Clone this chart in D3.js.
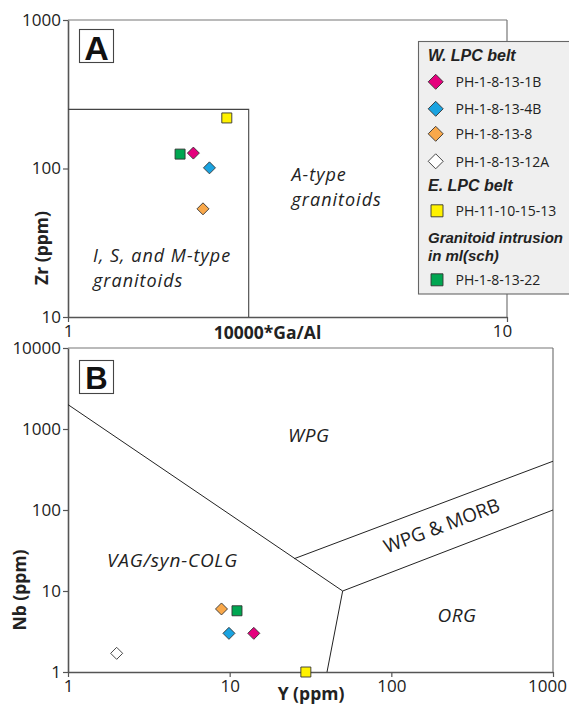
<!DOCTYPE html>
<html><head><meta charset="utf-8">
<script src="https://cdn.jsdelivr.net/npm/d3@7"></script>
<style>
body{margin:0;background:#fff;}
svg{display:block;}
.tick text{font-family:"Open Sans",sans-serif;font-size:17px;fill:#222;}
</style></head>
<body><svg id="c" width="569" height="706"></svg>
<script>
// ---------- data ----------
const samples = ["PH-1-8-13-1B","PH-1-8-13-4B","PH-1-8-13-8","PH-1-8-13-12A","PH-11-10-15-13","PH-1-8-13-22"];
const shapes  = ["diamond","diamond","diamond","diamond","square","square"];
const colors  = ["#e5007d","#1aa3e0","#f9a84a","#ffffff","#fff200","#00a651"];
// Panel A: 10000*Ga/Al vs Zr (ppm)
const gaAl = [1.93, 2.10, 2.03, null, 2.30, 1.80];
const zr   = [127, 101, 53.5, null, 219, 125];
// Panel B: Y vs Nb (ppm)
const yPpm  = [14.1, 9.9, 8.9, 2.0, 29.6, 11.1];
const nbPpm = [3.0, 3.0, 6.0, 1.7, 1.0, 5.7];
// Field boundaries
const isBoxGaAl = 2.58, isBoxZr = 250;
const lineVagWpg = [[1,2000],[50,10]];
const lineOrg    = [[50,10],[40,1]];
const lineMorbLo = [[50,10],[1000,100]];
const lineMorbHi = [[25,25],[1000,400]];
// Tick labels
const ticksAx = [1,10], ticksAy = [10,100,1000];
const ticksBx = [1,10,100,1000], ticksBy = [1,10,100,1000,10000];
// Legend
const legendRows = [
  {type:"head", text:"W. LPC belt"},
  {type:"item", idx:0},{type:"item", idx:1},{type:"item", idx:2},{type:"item", idx:3},
  {type:"head", text:"E. LPC belt"},
  {type:"item", idx:4},
  {type:"head", text:"Granitoid intrusion"},
  {type:"head2", text:"in ml(sch)"},
  {type:"item", idx:5}
];

const svg = d3.select("#c");
const SANS = '"Open Sans", sans-serif';
const ARIAL = '"Liberation Sans", Arial, sans-serif';

function marker(g, shape, size){
  if(shape==="diamond"){
    const r=size/2;
    return g.append("path").attr("d",`M0,${-r}L${r},0L0,${r}L${-r},0Z`);
  } else {
    const h=size/2;
    return g.append("path").attr("d",`M${-h},${-h}H${h}V${h}H${-h}Z`);
  }
}

function frame(x, y, xt, yt, labelAdjust){
  const [x0,x1]=x.range(), [y0,y1]=y.range();
  svg.append("line").attr("x1",x0).attr("x2",x1).attr("y1",y1).attr("y2",y1).attr("stroke","#777").attr("stroke-width",1.2);
  svg.append("line").attr("x1",x1).attr("x2",x1).attr("y1",y1).attr("y2",y0).attr("stroke","#777").attr("stroke-width",1.2);
  const ax = svg.append("g").attr("transform",`translate(0,${y0})`)
    .call(d3.axisBottom(x).tickValues(xt).tickFormat(d3.format("d")).tickSize(5).tickSizeOuter(0).tickPadding(3));
  const ay = svg.append("g").attr("transform",`translate(${x0},0)`)
    .call(d3.axisLeft(y).tickValues(yt).tickFormat(d3.format("d")).tickSize(5).tickSizeOuter(0).tickPadding(2));
  [ax,ay].forEach(a=>{
    a.select(".domain").attr("stroke","#555").attr("stroke-width",1.6);
    a.selectAll(".tick line").attr("stroke","#555").attr("stroke-width",1.2);
  });
  if(labelAdjust) labelAdjust(ax);
}

// ---------- Panel A ----------
const xA = d3.scaleLog().domain([1,10]).range([68,507]);
const yA = d3.scaleLog().domain([10,1000]).range([317,20]);
frame(xA,yA,ticksAx,ticksAy, ax=>{ax.selectAll(".tick text").filter(d=>d===10).attr("dx",-5);});
// I,S,M box
svg.append("path")
  .attr("d",`M${xA(1)},${yA(isBoxZr)}H${xA(isBoxGaAl)}V${yA(10)}`)
  .attr("fill","none").attr("stroke","#444").attr("stroke-width",1.1);

// panel letter
function panelLetter(x,y,w,h,t,fs,by){
  svg.append("rect").attr("x",x).attr("y",y).attr("width",w).attr("height",h).attr("fill","#fff").attr("stroke","#444").attr("stroke-width",1.1);
  svg.append("text").attr("x",x+w/2).attr("y",by).attr("text-anchor","middle")
    .attr("font-family",ARIAL).attr("font-weight","bold").attr("font-size",fs).attr("fill","#111").text(t);
}
panelLetter(79.5,29.5,34,33,"A",34,59.5);

function itext(x,y,t,fs,italic,ls){
  return svg.append("text").attr("x",x).attr("y",y).attr("font-family",SANS)
    .attr("font-style",italic?"italic":"normal").attr("font-size",fs)
    .attr("letter-spacing",ls||0).attr("fill","#222").text(t);
}
itext(291.5,181,"A-type",18,true,1);
itext(291.5,206,"granitoids",18,true,1);
itext(93,262,"I, S, and M-type",18,true,1);
itext(93,287,"granitoids",18,true,1);

// axis titles A
svg.append("text").attr("x",267.5).attr("y",339).attr("text-anchor","middle").attr("font-family",SANS)
  .attr("font-weight","bold").attr("font-size",17.5).attr("fill","#222").text("10000*Ga/Al");
svg.append("text").attr("transform","translate(48,248) rotate(-90)").attr("text-anchor","middle").attr("font-family",SANS)
  .attr("font-weight","bold").attr("font-size",17.5).attr("fill","#222").text("Zr (ppm)");

// points A
samples.forEach((s,i)=>{
  if(gaAl[i]==null) return;
  const g=svg.append("g").attr("transform",`translate(${xA(gaAl[i])},${yA(zr[i])})`);
  marker(g,shapes[i],shapes[i]==="diamond"?12:10).attr("fill",colors[i]).attr("stroke","#333").attr("stroke-width",0.9);
});

// legend
const lg = svg.append("g");
lg.append("rect").attr("x",418.5).attr("y",41.5).attr("width",152).attr("height",252.5)
  .attr("fill","#efefef").attr("stroke","#666").attr("stroke-width",1.1);
const rowY = [61, 87, 114, 139, 166.5, 190.5, 216, 242.5, 261, 285];
legendRows.forEach((r,k)=>{
  const by=rowY[k];
  if(r.type==="item"){
    const i=r.idx;
    const g=lg.append("g").attr("transform",`translate(${shapes[i]==="diamond"?435.7:437},${by-5.2})`);
    marker(g,shapes[i],shapes[i]==="diamond"?15:12).attr("fill",colors[i]).attr("stroke","#333").attr("stroke-width",0.9);
    lg.append("text").attr("x",455.5).attr("y",by).attr("font-family",SANS).attr("font-size",14).attr("fill","#222").text(samples[i]);
  } else {
    lg.append("text").attr("x",428).attr("y",by).attr("font-family",ARIAL).attr("font-weight","bold").attr("font-style","italic")
      .attr("font-size",r.type==="head" && k<7 ? 16 : 15).attr("fill","#222").text(r.text);
  }
});

// ---------- Panel B ----------
const xB = d3.scaleLog().domain([1,1000]).range([68,553]);
const yB = d3.scaleLog().domain([1,10000]).range([672,348]);
frame(xB,yB,ticksBx,ticksBy, ax=>{
  ax.selectAll(".tick text").filter(d=>d===1000).attr("dx",-6);
});
const lineGen = d3.line().x(d=>xB(d[0])).y(d=>yB(d[1]));
[lineVagWpg,lineOrg,lineMorbLo,lineMorbHi].forEach(L=>{
  svg.append("path").attr("d",lineGen(L)).attr("fill","none").attr("stroke","#222").attr("stroke-width",1);
});
panelLetter(79.5,360.5,34,33,"B",31,389);
itext(288,442,"WPG",19,true,0.5);
itext(107,567,"VAG/syn-COLG",19,true,0.8);
itext(437.5,622,"ORG",19,true,0.5);
// WPG & MORB rotated along band
{
  const a = Math.atan2(yB(400)-yB(25), xB(1000)-xB(25))*180/Math.PI;
  svg.append("text").attr("transform",`translate(444,532) rotate(${a})`).attr("text-anchor","middle")
    .attr("font-family",SANS).attr("font-size",19).attr("fill","#222").text("WPG & MORB");
}
svg.append("text").attr("x",311).attr("y",700).attr("text-anchor","middle").attr("font-family",SANS)
  .attr("font-weight","bold").attr("font-size",17.5).attr("fill","#222").text("Y (ppm)");
svg.append("text").attr("transform","translate(26,590) rotate(-90)").attr("text-anchor","middle").attr("font-family",SANS)
  .attr("font-weight","bold").attr("font-size",17.5).attr("fill","#222").text("Nb (ppm)");

samples.forEach((s,i)=>{
  const g=svg.append("g").attr("transform",`translate(${xB(yPpm[i])},${yB(nbPpm[i])})`);
  marker(g,shapes[i],shapes[i]==="diamond"?12:10).attr("fill",colors[i]).attr("stroke","#333").attr("stroke-width",0.9);
});
</script></body></html>
